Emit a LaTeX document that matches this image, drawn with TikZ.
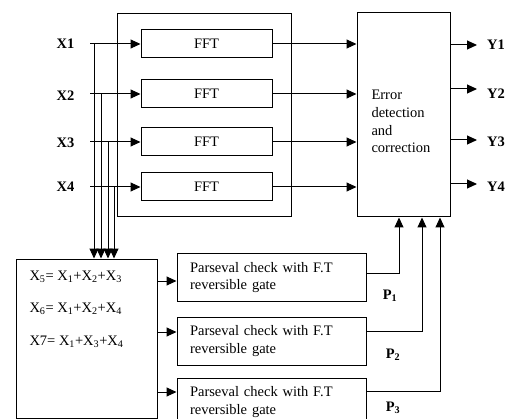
\documentclass[tikz,border=0pt]{standalone}
\usepackage{fontspec}
\setmainfont{Liberation Serif}
\usetikzlibrary{arrows.meta}
\begin{document}
\begin{tikzpicture}[x=1pt,y=-1pt,line width=1pt,
  every node/.style={font=\fontsize{14.5}{17.7}\selectfont},
  box/.style={draw,rectangle,inner sep=0pt},
  fftbox/.style={box,minimum width=131,minimum height=28},
  pbox/.style={box,minimum width=189,minimum height=48,text width=163,inner xsep=13,align=left},
  arr/.style={-{Triangle[length=10pt,width=9pt]}},
  lab/.style={font=\fontsize{14.5}{17.7}\selectfont\bfseries}]
\useasboundingbox (0,0) rectangle (510,419);
\clip (0,0) rectangle (510,419);

% FFT block
\node[box,minimum width=174,minimum height=203] (outer) at (204,115.5) {};
\node[fftbox] (fft1) at (206.5,44) {FFT};
\node[fftbox] (fft2) at (206.5,94) {FFT};
\node[fftbox] (fft3) at (206.5,142) {FFT};
\node[fftbox] (fft4) at (206.5,187) {FFT};

% error box
\node[box,minimum width=93,minimum height=204] (err) at (403.5,115) {};
\node[anchor=west,align=left,inner sep=0pt] (errtext) at (371,121.5) {Error\\detection\\and\\correction};

% inputs
\node[lab] (x1) at (65.5,44) {X1};
\node[lab] (x2) at (65.5,96) {X2};
\node[lab] (x3) at (65.5,143) {X3};
\node[lab] (x4) at (65.5,187) {X4};
\coordinate (s1) at (90,44);
\coordinate (s2) at (90,94);
\coordinate (s3) at (90,142);
\coordinate (s4) at (90,187);
\draw[arr] (s1) -- (fft1.west);
\draw[arr] (s2) -- (fft2.west);
\draw[arr] (s3) -- (fft3.west);
\draw[arr] (s4) -- (fft4.west);

% formula box
\node[box,minimum width=141,minimum height=159] (form) at (86.5,338.5) {};
\node[anchor=west,inner sep=0pt] (f5) at (29,277) {X\textsubscript{5}= X\textsubscript{1}+X\textsubscript{2}+X\textsubscript{3}};
\node[anchor=west,inner sep=0pt] (f6) at (29,309) {X\textsubscript{6}= X\textsubscript{1}+X\textsubscript{2}+X\textsubscript{4}};
\node[anchor=west,inner sep=0pt] (f7) at (29,342) {X7= X\textsubscript{1}+X\textsubscript{3}+X\textsubscript{4}};

% drops
\coordinate (d1) at (94,44);
\coordinate (d2) at (101,94);
\coordinate (d3) at (108,142);
\coordinate (d4) at (114,187);
\draw[arr] (d1) -- (d1 |- form.north);
\draw[arr] (d2) -- (d2 |- form.north);
\draw[arr] (d3) -- (d3 |- form.north);
\draw[arr] (d4) -- (d4 |- form.north);

% FFT -> error
\draw[arr] (fft1.east) -- (fft1.east -| err.west);
\draw[arr] (fft2.east) -- (fft2.east -| err.west);
\draw[arr] (fft3.east) -- (fft3.east -| err.west);
\draw[arr] (fft4.east) -- (fft4.east -| err.west);

% outputs
\coordinate (o1) at (450,45);
\coordinate (o2) at (450,89);
\coordinate (o3) at (450,140);
\coordinate (o4) at (450,184);
\coordinate (e1) at (477,45);
\coordinate (e2) at (477,89);
\coordinate (e3) at (477,140);
\coordinate (e4) at (477,184);
\draw[arr] (o1) -- (e1);
\draw[arr] (o2) -- (e2);
\draw[arr] (o3) -- (e3);
\draw[arr] (o4) -- (e4);
\node[lab] (y1) at (496,45) {Y1};
\node[lab] (y2) at (496,94) {Y2};
\node[lab] (y3) at (496,142) {Y3};
\node[lab] (y4) at (496,187) {Y4};

% Parseval boxes
\node[pbox] (pc1) at (271.5,277.5) {Parseval check with F.T\\reversible gate};
\node[pbox] (pc2) at (271.5,341) {Parseval check with F.T\\reversible gate};
\node[pbox] (pc3) at (271.5,402) {Parseval check with F.T\\reversible gate};
\coordinate (a1) at (157,281);
\coordinate (a2) at (157,332);
\coordinate (a3) at (157,392);
\draw[arr] (a1) -- (a1 -| pc1.west);
\draw[arr] (a2) -- (a2 -| pc2.west);
\draw[arr] (a3) -- (a3 -| pc3.west);

% P feedback
\coordinate (q1) at (366,273);
\coordinate (q2) at (366,331);
\coordinate (q3) at (366,391);
\draw[arr] (q1) -| ([xshift=-4.5]err.south);
\draw[arr] (q2) -| ([xshift=18.5]err.south);
\draw[arr] (q3) -| ([xshift=36.5]err.south);
\node[lab] (p1) at (390,296) {P\textsubscript{1}};
\node[lab] (p2) at (393,355) {P\textsubscript{2}};
\node[lab] (p3) at (393,408) {P\textsubscript{3}};
\end{tikzpicture}
\end{document}
